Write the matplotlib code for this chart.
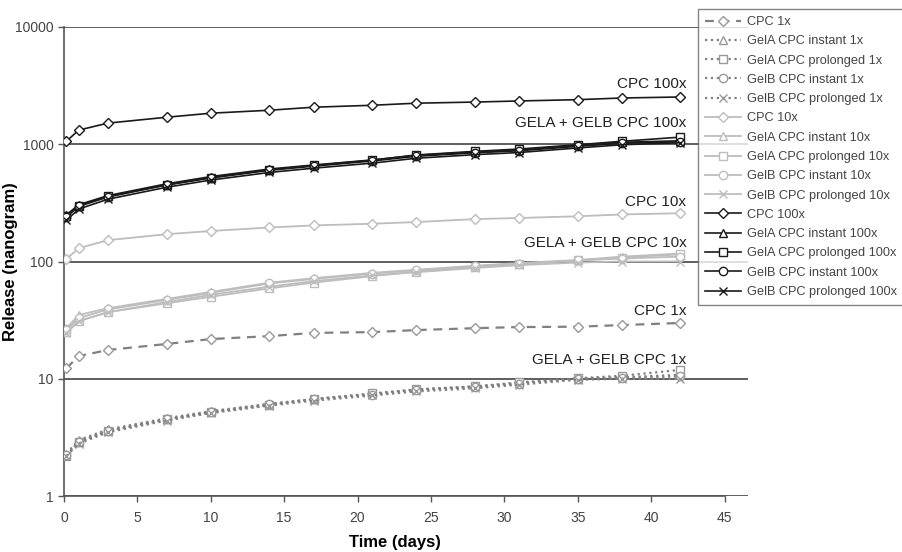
import matplotlib
matplotlib.use("Agg")
import matplotlib.pyplot as plt
from matplotlib.ticker import FixedLocator, NullLocator, FuncFormatter

plt.rcParams['font.family'] = ['Liberation Sans', 'DejaVu Sans']

days = [0.17, 1, 3, 7, 10, 14, 17, 21, 24, 28, 31, 35, 38, 42]

# release in nanogram
cpc_1x = [12.3, 15.6, 17.6, 19.8, 21.8, 23.1, 24.6, 25.0, 26.0, 27.0, 27.6, 27.8, 28.7, 29.9]
gela_inst_1x = [2.3, 3.0, 3.7, 4.6, 5.3, 6.1, 6.7, 7.4, 8.1, 8.6, 9.2, 10.0, 10.3, 10.8]
gela_prol_1x = [2.2, 2.9, 3.6, 4.5, 5.2, 6.0, 6.7, 7.5, 8.1, 8.6, 9.3, 10.1, 10.6, 11.9]
gelb_inst_1x = [2.25, 2.9, 3.6, 4.5, 5.2, 6.1, 6.7, 7.3, 8.0, 8.5, 9.1, 10.0, 10.2, 10.5]
gelb_prol_1x = [2.2, 2.8, 3.5, 4.4, 5.1, 5.9, 6.5, 7.2, 7.8, 8.3, 8.9, 9.8, 10.0, 10.0]

cpc_10x = [105, 130, 152, 171, 182, 195, 203, 210, 217, 230, 235, 243, 252, 258]
gela_inst_10x = [27, 35, 40, 48, 55, 66, 72, 80, 85, 92, 97, 103, 110, 117]
gela_prol_10x = [25, 31, 37, 44, 50, 59, 66, 75, 82, 89, 95, 102, 108, 115]
gelb_inst_10x = [26, 33, 39, 47, 54, 65, 71, 79, 84, 91, 96, 102, 106, 110]
gelb_prol_10x = [24.5, 31, 37, 45, 52, 61, 68, 76, 81, 88, 93, 98, 100, 100]

cpc_100x = [1062, 1320, 1515, 1700, 1840, 1950, 2070, 2150, 2240, 2290, 2340, 2400, 2480, 2530]
gela_inst_100x = [250, 305, 365, 460, 530, 615, 665, 735, 805, 860, 895, 980, 1040, 1070]
gela_prol_100x = [245, 300, 360, 450, 520, 605, 660, 730, 810, 870, 910, 990, 1060, 1150]
gelb_inst_100x = [240, 295, 355, 450, 515, 600, 650, 720, 790, 845, 880, 960, 1020, 1050]
gelb_prol_100x = [225, 280, 340, 430, 495, 575, 625, 690, 760, 815, 850, 930, 990, 1030]

series = [
    ('CPC 1x', cpc_1x), ('GelA CPC instant 1x', gela_inst_1x),
    ('GelA CPC prolonged 1x', gela_prol_1x), ('GelB CPC instant 1x', gelb_inst_1x),
    ('GelB CPC prolonged 1x', gelb_prol_1x),
    ('CPC 10x', cpc_10x), ('GelA CPC instant 10x', gela_inst_10x),
    ('GelA CPC prolonged 10x', gela_prol_10x), ('GelB CPC instant 10x', gelb_inst_10x),
    ('GelB CPC prolonged 10x', gelb_prol_10x),
    ('CPC 100x', cpc_100x), ('GelA CPC instant 100x', gela_inst_100x),
    ('GelA CPC prolonged 100x', gela_prol_100x), ('GelB CPC instant 100x', gelb_inst_100x),
    ('GelB CPC prolonged 100x', gelb_prol_100x),
]
markers = ['D', '^', 's', 'o', 'x']

fig = plt.figure(figsize=(9.02, 5.52), dpi=100)
ax = fig.add_axes([64 / 902, 1 - 496 / 552, (748 - 64) / 902, (496 - 27) / 552])

for k, (name, vals) in enumerate(series):
    group, m = divmod(k, 5)
    ms = 5 if markers[m] == 'D' else 6
    if group == 0:
        ls = (0, (4, 3)) if m == 0 else ':'
        col, mcol, lw = '#808080', '#999999', 1.6
    elif group == 1:
        ls, col, mcol, lw = '-', '#bdbdbd', '#bdbdbd', 1.3
    else:
        ls, col, mcol, lw = '-', '#1a1a1a', '#1a1a1a', 1.2
    ax.plot(days, vals, linestyle=ls, color=col, lw=lw, marker=markers[m],
            ms=ms, mfc='white', mec=mcol, mew=1.0, label=name, zorder=3 + group)

ax.set_yscale('log')
ax.set_ylim(1, 10000)
ax.set_xlim(0, 46.6)
ax.yaxis.set_major_locator(FixedLocator([1, 10, 100, 1000, 10000]))
ax.yaxis.set_minor_locator(NullLocator())
ax.yaxis.set_major_formatter(FuncFormatter(lambda v, p: f'{v:g}'))
ax.set_xticks(range(0, 46, 5))
ax.grid(axis='y', color='#333333', lw=1.1)
ax.set_axisbelow(True)
for s in ['top', 'right']:
    ax.spines[s].set_visible(False)
for s in ['left', 'bottom']:
    ax.spines[s].set_color('#555555')
    ax.spines[s].set_linewidth(1.2)
ax.spines['bottom'].set_bounds(0, 45)
ax.tick_params(axis='both', colors='#555555', labelcolor='#444444', labelsize=10,
               length=4, width=1.0)
ax.tick_params(axis='x', pad=7)

ax.set_xlabel('Time (days)', fontsize=12, fontweight='bold')
ax.xaxis.set_label_coords(0.484, -0.083)
ax.set_ylabel('Release (nanogram)', fontsize=12, fontweight='bold')
ax.yaxis.set_label_coords(-0.067, 0.5)

for label, yv in [('CPC 100x', 3250), ('GELA + GELB CPC 100x', 1510),
                  ('CPC 10x', 320), ('GELA + GELB CPC 10x', 143),
                  ('CPC 1x', 37.8), ('GELA + GELB CPC 1x', 14.4)]:
    ax.text(42.4, yv, label, ha='right', va='center', fontsize=11, color='#222222')

fig.legend(loc='upper left', bbox_to_anchor=(698 / 902, 1 - 9 / 552),
           fontsize=9.2, frameon=True, fancybox=False, edgecolor='#666666',
           handlelength=2.8, labelspacing=0.57, borderpad=0.55, handletextpad=0.5,
           borderaxespad=0, labelcolor='#444444')

fig.savefig('out.png', dpi=100)
